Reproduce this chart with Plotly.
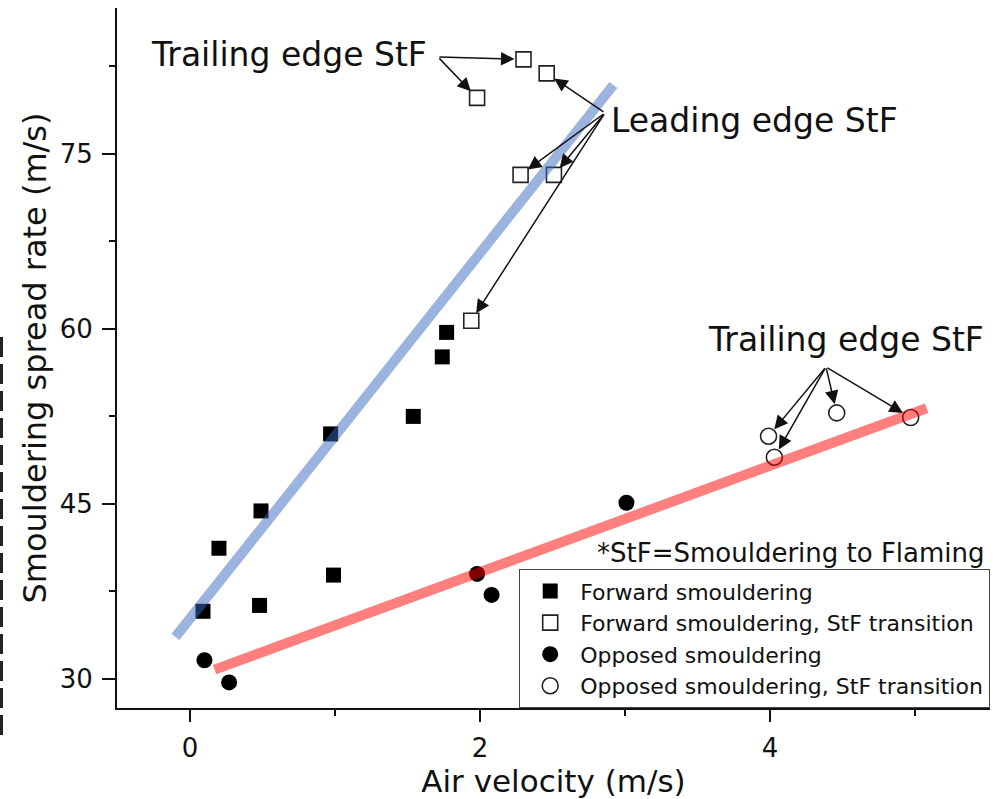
import plotly.graph_objects as go

# ---- data ----
fwd_x = [0.09, 0.20, 0.48, 0.49, 0.99, 0.97, 1.54, 1.74, 1.77]
fwd_y = [35.8, 41.2, 36.3, 44.4, 38.9, 51.0, 52.5, 57.6, 59.7]

fwd_stf_x = [2.30, 2.46, 1.98, 2.28, 2.51, 1.94]
fwd_stf_y = [83.1, 81.9, 79.8, 73.2, 73.2, 60.7]

opp_x = [0.10, 0.27, 1.98, 2.08, 3.01]
opp_y = [31.6, 29.7, 39.0, 37.2, 45.1]

opp_stf_x = [3.99, 4.03, 4.46, 4.97]
opp_stf_y = [50.8, 49.0, 52.8, 52.4]

fit_fwd_x = [-0.10, 2.92]
fit_fwd_y = [33.6, 80.9]
fit_opp_x = [0.17, 5.08]
fit_opp_y = [30.8, 53.2]

x_ticks = [0, 2, 4]
y_ticks = [30, 45, 60, 75]

FONT = "DejaVu Sans"

fig = go.Figure()
fig.add_trace(go.Scatter(x=fwd_x, y=fwd_y, mode="markers", name="Forward smouldering",
                         marker=dict(symbol="square", size=15, color="black")))
fig.add_trace(go.Scatter(x=fwd_stf_x, y=fwd_stf_y, mode="markers",
                         name="Forward smouldering, StF transition",
                         marker=dict(symbol="square-open", size=15, color="#222",
                                     line=dict(width=1.6, color="#222"))))
fig.add_trace(go.Scatter(x=opp_x, y=opp_y, mode="markers", name="Opposed smouldering",
                         marker=dict(symbol="circle", size=16, color="black")))
fig.add_trace(go.Scatter(x=opp_stf_x, y=opp_stf_y, mode="markers",
                         name="Opposed smouldering, StF transition",
                         marker=dict(symbol="circle-open", size=16, color="#222",
                                     line=dict(width=1.6, color="#222"))))
fig.add_trace(go.Scatter(x=fit_fwd_x, y=fit_fwd_y, mode="lines", showlegend=False,
                         line=dict(color="rgba(55,103,191,0.5)", width=10)))
fig.add_trace(go.Scatter(x=fit_opp_x, y=fit_opp_y, mode="lines", showlegend=False,
                         line=dict(color="rgba(255,0,0,0.5)", width=10)))

# ---- annotations: labels ----
ann = []
ann.append(dict(x=1.648, y=83.53, xref="x", yref="y", text="Trailing edge StF",
                showarrow=False, xanchor="right", yanchor="middle",
                font=dict(family=FONT, size=33, color="#111")))
ann.append(dict(x=2.89, y=77.87, xref="x", yref="y", text="Leading edge StF",
                showarrow=False, xanchor="left", yanchor="middle",
                font=dict(family=FONT, size=33, color="#111")))
ann.append(dict(x=4.524, y=59.06, xref="x", yref="y", text="Trailing edge StF",
                showarrow=False, xanchor="center", yanchor="middle",
                font=dict(family=FONT, size=33, color="#111")))
ann.append(dict(x=5.497, y=40.8, xref="x", yref="y", text="*StF=Smouldering to Flaming",
                showarrow=False, xanchor="right", yanchor="middle",
                font=dict(family=FONT, size=26, color="#111")))

# ---- arrows: tail positions and target point indices ----
def arrow(tail, tx, ty):
    return dict(x=tx, y=ty, xref="x", yref="y", ax=tail[0], ay=tail[1], axref="x", ayref="y",
                text="", showarrow=True, arrowhead=2, arrowsize=1.8, arrowwidth=1.5,
                arrowcolor="#111", standoff=9)

tail_tl = (1.71, 83.31)
for i in [0, 2]:
    ann.append(arrow(tail_tl, fwd_stf_x[i], fwd_stf_y[i]))
tail_lead = (2.862, 78.51)
for i in [1, 3, 4, 5]:
    ann.append(arrow(tail_lead, fwd_stf_x[i], fwd_stf_y[i]))
tail_r = (4.386, 56.74)
for i in range(4):
    ann.append(arrow(tail_r, opp_stf_x[i], opp_stf_y[i]))

fig.update_layout(
    width=1000, height=799,
    margin=dict(l=117, r=10, t=8, b=91, autoexpand=False),
    paper_bgcolor="white", plot_bgcolor="white",
    font=dict(family=FONT, color="#111"),
    annotations=ann,
    showlegend=True,
    legend=dict(x=1.0, y=0.1986, xanchor="right", yanchor="top",
                bgcolor="white", bordercolor="#444", borderwidth=1.2,
                font=dict(family=FONT, size=22, color="#111"),
                itemwidth=50, tracegroupgap=0),
    shapes=[dict(type="line", xref="paper", yref="paper",
                 x0=-115.5 / 873, x1=-115.5 / 873, y0=(708 - 337) / 700, y1=(708 - 735) / 700,
                 line=dict(color="#222", width=3, dash="20px,7px"))],
)

fig.update_xaxes(range=[-0.503, 5.517], tickvals=x_ticks, ticks="outside", ticklen=12, tickwidth=2,
                 tickcolor="#111", showline=True, linewidth=2, linecolor="#111", showgrid=False,
                 zeroline=False, automargin=False, ticklabelstandoff=4,
                 tickfont=dict(family=FONT, size=26, color="#111"),
                 minor=dict(dtick=1, tick0=1, ticks="outside", ticklen=6, tickwidth=2, tickcolor="#111",
                            showgrid=False),
                 title=dict(text="Air velocity (m/s)", font=dict(family=FONT, size=31, color="#111"),
                            standoff=2))
fig.update_yaxes(range=[27.51, 87.5], tickvals=y_ticks, ticks="outside", ticklen=13, tickwidth=2,
                 tickcolor="#111", showline=True, linewidth=2, linecolor="#111", showgrid=False,
                 zeroline=False, automargin=False, ticklabelstandoff=4,
                 tickfont=dict(family=FONT, size=26, color="#111"),
                 minor=dict(dtick=7.5, tick0=30, ticks="outside", ticklen=6, tickwidth=2, tickcolor="#111",
                            showgrid=False),
                 title=dict(text="Smouldering spread rate (m/s)", font=dict(family=FONT, size=32, color="#111"),
                            standoff=4))

fig.write_html("out.html", config={"displayModeBar": False},
               post_script="document.body.style.margin='0';document.body.style.overflow='hidden';")
